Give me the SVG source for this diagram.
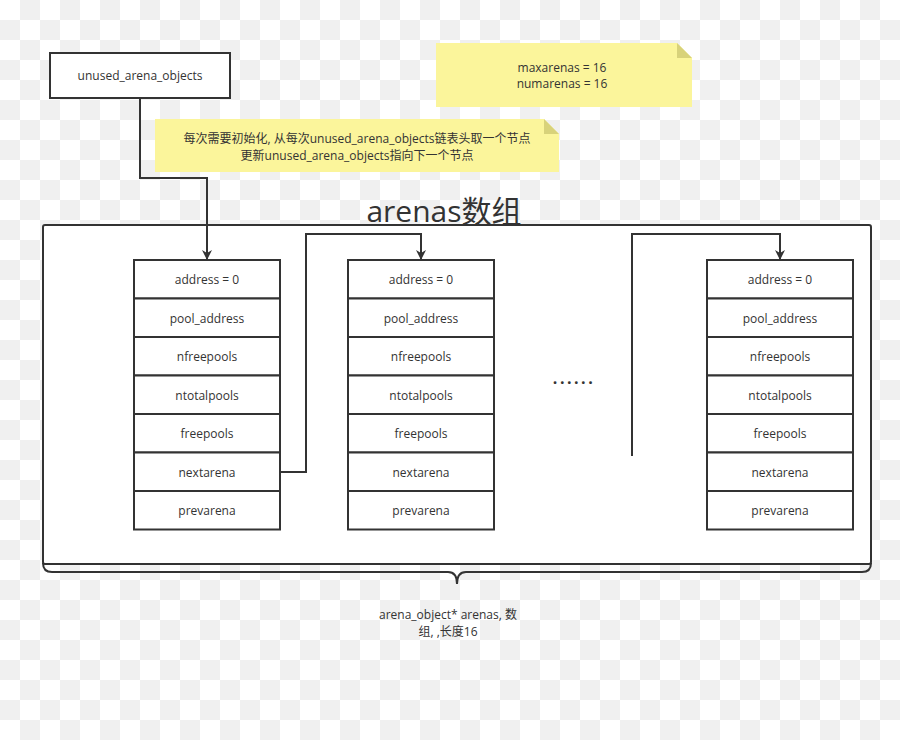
<svg xmlns="http://www.w3.org/2000/svg" width="900" height="740" viewBox="0 0 900 740">
<defs>
<pattern id="chk" width="40" height="40" patternUnits="userSpaceOnUse">
<rect width="40" height="40" fill="#ffffff"/>
<rect x="20" y="0" width="20" height="20" fill="#f0f0f0"/>
<rect x="0" y="20" width="20" height="20" fill="#f0f0f0"/>
</pattern>
<marker id="arr" viewBox="0 0 10 10" refX="9" refY="5" markerWidth="10" markerHeight="10" markerUnits="userSpaceOnUse" orient="auto">
<path d="M0,0 L10,5 L0,10 L3,5 Z" fill="#333"/>
</marker>
<style>
.box{fill:#fff;stroke:#333;stroke-width:2}
.cell{fill:#fff;stroke:#333;stroke-width:2}
.t{font-family:"Open Sans","Noto Sans","Noto Sans CJK SC",sans-serif;font-size:12px;fill:#333;text-anchor:middle;dominant-baseline:central}
.note{fill:#fbf59b}
.fold{fill:#d8d27a}
.con{fill:none;stroke:#333;stroke-width:2}
</style>
</defs>
<rect width="900" height="740" fill="url(#chk)"/>

<g id="unused_arena_objects">
<rect class="box" x="50" y="53" width="180" height="45"/>
<text class="t" x="140" y="75.5">unused_arena_objects</text>
</g>

<g id="note_counts">
<path class="note" d="M436,43 H677 L692,58 V107 H436 Z"/>
<path class="fold" d="M677,43 L692,58 H677 Z"/>
<text class="t" x="562" y="67">maxarenas = 16</text>
<text class="t" x="562" y="83">numarenas = 16</text>
</g>

<g id="note_init">
<path class="note" d="M155,119 H544 L559,134 V172 H155 Z"/>
<path class="fold" d="M544,119 L559,134 H544 Z"/>
<text class="t" x="357" y="138">每次需要初始化, 从每次unused_arena_objects链表头取一个节点</text>
<text class="t" x="357" y="155">更新unused_arena_objects指向下一个节点</text>
</g>

<g id="arenas_array">
<text x="444" y="210" text-anchor="middle" dominant-baseline="central" font-family="'Open Sans','Noto Sans','Noto Sans CJK SC',sans-serif" font-size="30" fill="#333">arenas数组</text>
<rect x="43" y="225" width="828" height="339" fill="#fff" stroke="#333" stroke-width="2" rx="2"/>
<path d="M43,563 Q43,572 52,572 H448 Q457,572 457,584 Q457,572 466,572 H862 Q871,572 871,563" fill="none" stroke="#333" stroke-width="2"/>
<text class="t" x="448" y="614">arena_object* arenas,  数</text>
<text class="t" x="448" y="631">组, ,长度16</text>
<text x="574" y="378" text-anchor="middle" dominant-baseline="central" font-family="'Open Sans','Noto Sans',sans-serif" font-size="16" font-weight="bold" fill="#333" letter-spacing="2.5">......</text>
</g>

<g id="arena1">
<rect class="cell" x="134" y="260" width="146" height="38.5"/>
<rect class="cell" x="134" y="298.5" width="146" height="38.5"/>
<rect class="cell" x="134" y="337" width="146" height="38.5"/>
<rect class="cell" x="134" y="375.5" width="146" height="38.5"/>
<rect class="cell" x="134" y="414" width="146" height="38.5"/>
<rect class="cell" x="134" y="452.5" width="146" height="38.5"/>
<rect class="cell" x="134" y="491" width="146" height="38.5"/>
<text class="t" x="207" y="279">address = 0</text>
<text class="t" x="207" y="318">pool_address</text>
<text class="t" x="207" y="356">nfreepools</text>
<text class="t" x="207" y="395">ntotalpools</text>
<text class="t" x="207" y="433">freepools</text>
<text class="t" x="207" y="472">nextarena</text>
<text class="t" x="207" y="510">prevarena</text>
</g>

<g id="arena2">
<rect class="cell" x="348" y="260" width="146" height="38.5"/>
<rect class="cell" x="348" y="298.5" width="146" height="38.5"/>
<rect class="cell" x="348" y="337" width="146" height="38.5"/>
<rect class="cell" x="348" y="375.5" width="146" height="38.5"/>
<rect class="cell" x="348" y="414" width="146" height="38.5"/>
<rect class="cell" x="348" y="452.5" width="146" height="38.5"/>
<rect class="cell" x="348" y="491" width="146" height="38.5"/>
<text class="t" x="421" y="279">address = 0</text>
<text class="t" x="421" y="318">pool_address</text>
<text class="t" x="421" y="356">nfreepools</text>
<text class="t" x="421" y="395">ntotalpools</text>
<text class="t" x="421" y="433">freepools</text>
<text class="t" x="421" y="472">nextarena</text>
<text class="t" x="421" y="510">prevarena</text>
</g>

<g id="arena16">
<rect class="cell" x="707" y="260" width="146" height="38.5"/>
<rect class="cell" x="707" y="298.5" width="146" height="38.5"/>
<rect class="cell" x="707" y="337" width="146" height="38.5"/>
<rect class="cell" x="707" y="375.5" width="146" height="38.5"/>
<rect class="cell" x="707" y="414" width="146" height="38.5"/>
<rect class="cell" x="707" y="452.5" width="146" height="38.5"/>
<rect class="cell" x="707" y="491" width="146" height="38.5"/>
<text class="t" x="780" y="279">address = 0</text>
<text class="t" x="780" y="318">pool_address</text>
<text class="t" x="780" y="356">nfreepools</text>
<text class="t" x="780" y="395">ntotalpools</text>
<text class="t" x="780" y="433">freepools</text>
<text class="t" x="780" y="472">nextarena</text>
<text class="t" x="780" y="510">prevarena</text>
</g>

<g id="connectors">
<path class="con" d="M140,98 V178 H207 V259" marker-end="url(#arr)"/>
<path class="con" d="M280,472 H306 V234 H421 V259" marker-end="url(#arr)"/>
<path class="con" d="M632,456 V234 H780 V259" marker-end="url(#arr)"/>
</g>
</svg>
